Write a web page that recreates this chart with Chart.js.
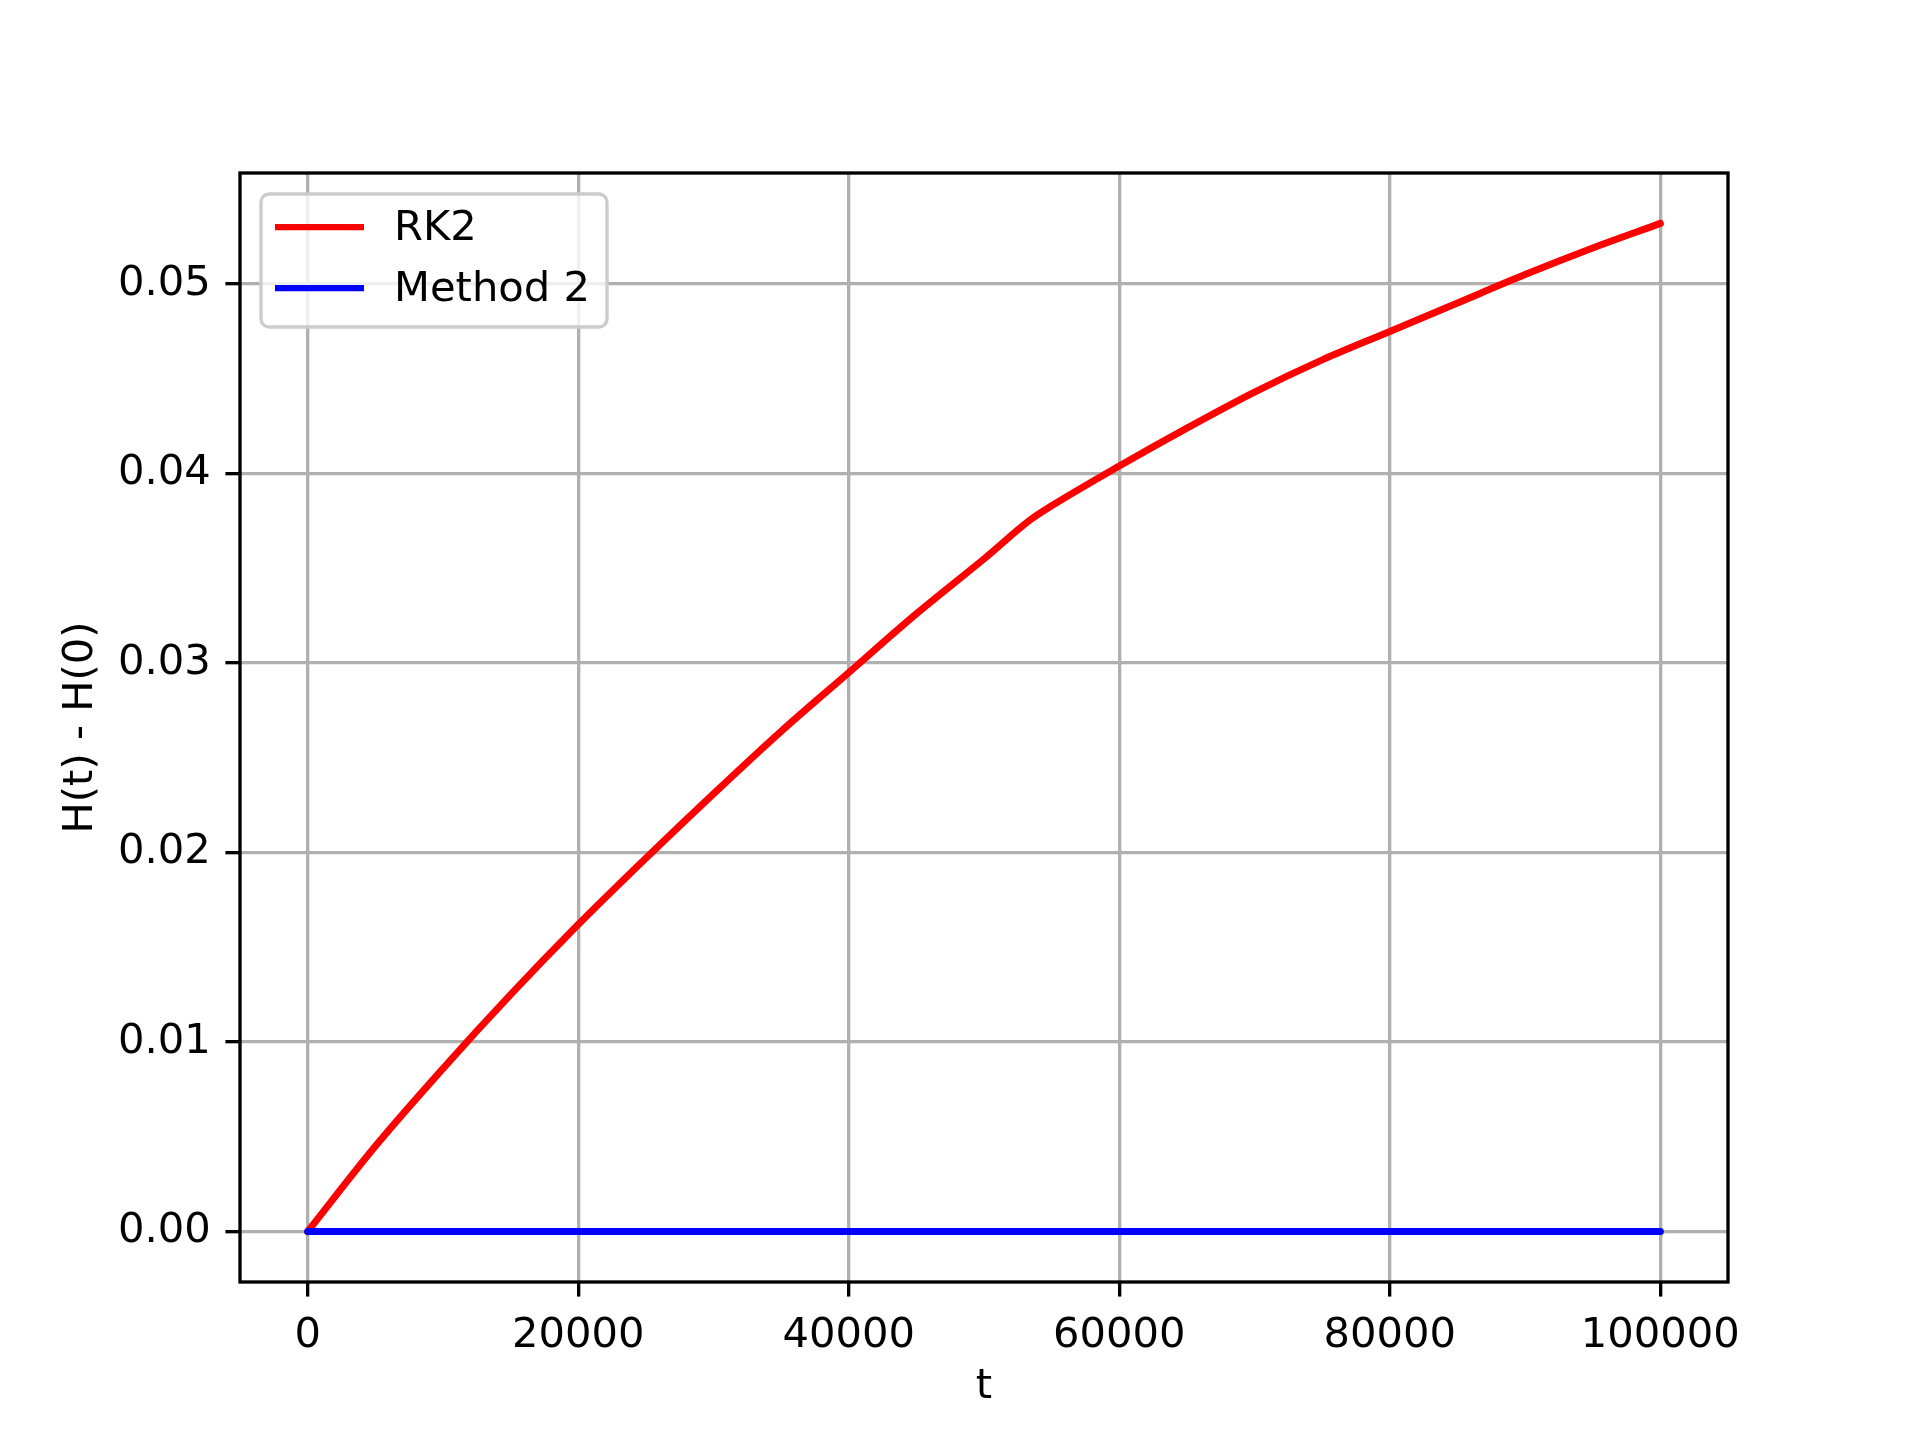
<!DOCTYPE html>
<html lang="en">
<head>
    <meta charset="UTF-8">
    <title>H(t) - H(0)</title>
    <script src="https://cdn.jsdelivr.net/npm/chart.js@4.4.1/dist/chart.umd.min.js"></script>
    <style>
        body { margin: 0; background: #fff; }
        canvas { display: block; }
    </style>
</head>
<body>
<canvas id="energyChart" width="1920" height="1440"></canvas>

<script>
// values
const times = [0, 5000, 10000, 15000, 20000, 25000, 30000, 35000, 40000, 45000,
               50000, 53500, 55000, 60000, 65000, 70000, 75000, 80000, 85000, 90000, 95000, 100000];
const rk2 = [0, 0.0045, 0.0086, 0.0125, 0.0162, 0.0197, 0.0231, 0.0264, 0.0295, 0.0326,
             0.0355, 0.0376, 0.0383, 0.0404, 0.0424, 0.0443, 0.0460, 0.0475, 0.0490, 0.0505, 0.0519, 0.0532];
const method2 = [0, 0, 0, 0, 0, 0, 0, 0, 0, 0, 0, 0, 0, 0, 0, 0, 0, 0, 0, 0, 0, 0];
const xTicks = [0, 20000, 40000, 60000, 80000, 100000];
const yTicks = [0.00, 0.01, 0.02, 0.03, 0.04, 0.05];

const PT = 300 / 72;            // matplotlib points -> pixels at 300 dpi
const FONT = 'DejaVu Sans';
const FS = 10 * PT;

// frame on all four sides, drawn over the lines
const spines = {
    id: 'spines',
    afterDatasetsDraw(chart) {
        const { ctx, chartArea: a } = chart;
        ctx.save();
        ctx.strokeStyle = '#000';
        ctx.lineWidth = 0.8 * PT;
        ctx.strokeRect(a.left, a.top, a.right - a.left, a.bottom - a.top);
        ctx.restore();
    }
};

// matplotlib-like legend in the upper left corner
const boxLegend = {
    id: 'boxLegend',
    afterDraw(chart) {
        const { ctx, chartArea: a } = chart;
        const sets = chart.data.datasets;
        const x0 = a.left + 21, y0 = a.top + 21;
        const w = 346, h = 133, r = 8;
        ctx.save();
        ctx.beginPath();
        ctx.roundRect(x0, y0, w, h, r);
        ctx.fillStyle = 'rgba(255,255,255,0.8)';
        ctx.fill();
        ctx.strokeStyle = '#cccccc';
        ctx.lineWidth = 0.8 * PT;
        ctx.stroke();
        ctx.font = FS + 'px "' + FONT + '"';
        ctx.textBaseline = 'middle';
        sets.forEach((ds, i) => {
            const y = y0 + 33 + i * 61;
            ctx.beginPath();
            ctx.moveTo(x0 + 14, y);
            ctx.lineTo(x0 + 103, y);
            ctx.strokeStyle = ds.borderColor;
            ctx.lineWidth = 1.5 * PT;
            ctx.stroke();
            ctx.fillStyle = '#000';
            ctx.fillText(ds.label, x0 + 133, y + 2);
        });
        ctx.restore();
    }
};

const ctx = document.getElementById('energyChart').getContext('2d');
const chart = new Chart(ctx, {
    type: 'line',
    data: {
        datasets: [
            {
                label: 'RK2',
                data: times.map((t, i) => ({ x: t, y: rk2[i] })),
                borderColor: '#ff0000',
                borderWidth: 7,
                borderCapStyle: 'round',
                borderJoinStyle: 'round',
                cubicInterpolationMode: 'monotone',
                pointRadius: 0,
                order: 1
            },
            {
                label: 'Method 2',
                data: times.map((t, i) => ({ x: t, y: method2[i] })),
                borderColor: '#0000ff',
                borderWidth: 7,
                borderCapStyle: 'round',
                pointRadius: 0,
                tension: 0,
                order: 0
            }
        ]
    },
    options: {
        responsive: false,
        animation: false,
        devicePixelRatio: 1,
        layout: { padding: { left: 0, top: 173, right: 192, bottom: 0 } },
        plugins: {
            legend: { display: false },
            tooltip: { enabled: false }
        },
        scales: {
            x: {
                type: 'linear',
                min: -5000,
                max: 105000,
                afterBuildTicks: s => { s.ticks = xTicks.map(v => ({ value: v })); },
                afterFit: s => { s.height = 158; },
                grid: {
                    color: '#b0b0b0',
                    lineWidth: 0.8 * PT,
                    tickColor: '#000',
                    tickWidth: 0.8 * PT,
                    tickLength: 3.5 * PT
                },
                border: { display: false },
                ticks: {
                    color: '#000',
                    padding: 3.5 * PT,
                    maxRotation: 0,
                    font: { family: FONT, size: FS },
                    callback: v => String(v)
                },
                title: {
                    display: true,
                    text: 't',
                    color: '#000',
                    font: { family: FONT, size: FS },
                    padding: { top: 0, bottom: 28 }
                }
            },
            y: {
                type: 'linear',
                min: -0.00266,
                max: 0.05586,
                afterBuildTicks: s => { s.ticks = yTicks.map(v => ({ value: v })); },
                afterFit: s => { s.width = 240; },
                grid: {
                    color: '#b0b0b0',
                    lineWidth: 0.8 * PT,
                    tickColor: '#000',
                    tickWidth: 0.8 * PT,
                    tickLength: 3.5 * PT
                },
                border: { display: false },
                ticks: {
                    color: '#000',
                    padding: 3.5 * PT,
                    font: { family: FONT, size: FS },
                    callback: v => v.toFixed(2)
                },
                title: {
                    display: true,
                    text: 'H(t) - H(0)',
                    color: '#000',
                    font: { family: FONT, size: FS },
                    padding: { top: 56, bottom: 0 }
                }
            }
        }
    },
    plugins: [spines, boxLegend]
});
</script>
</body>
</html>
